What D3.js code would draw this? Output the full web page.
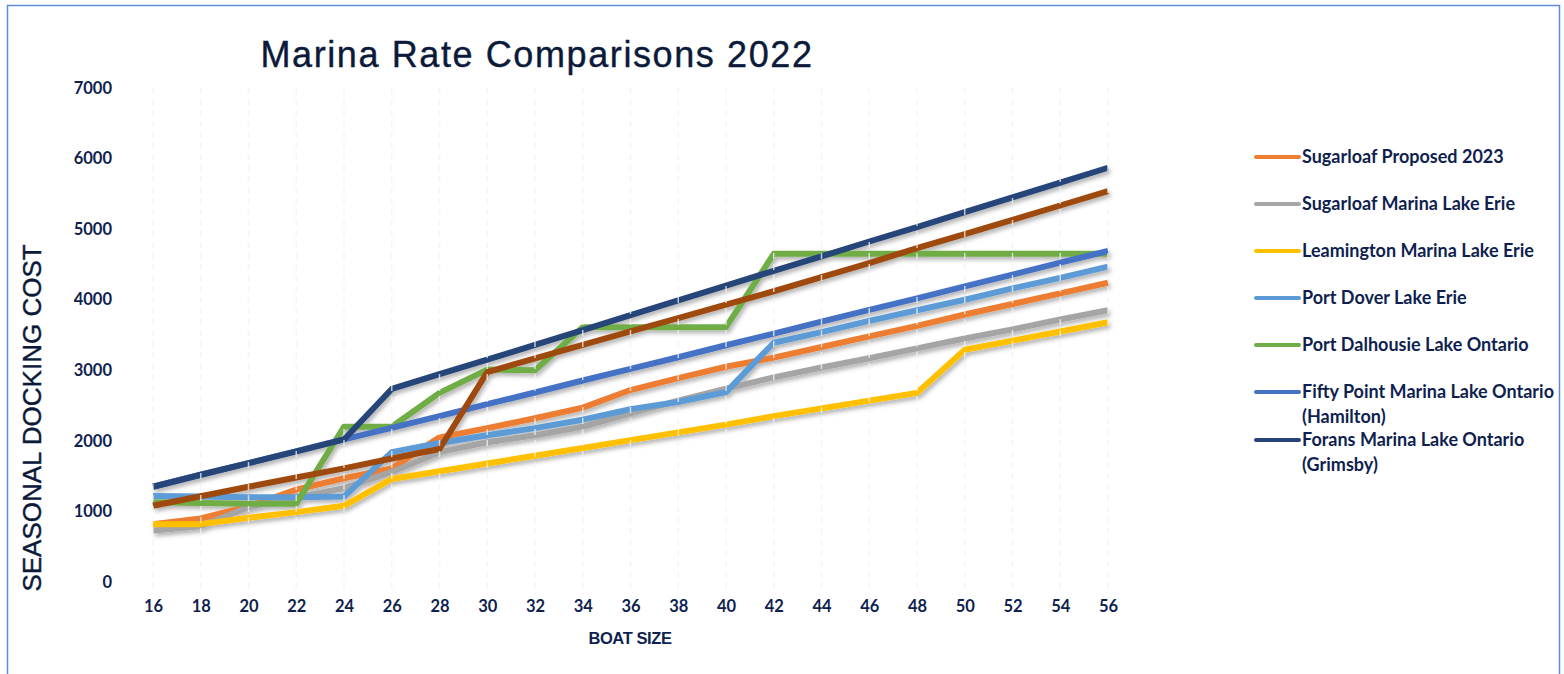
<html>
<head>
<meta charset='utf-8'>
<script src='https://cdnjs.cloudflare.com/ajax/libs/d3/7.8.5/d3.min.js'></script>
<style>
  body { margin: 0; background: #fff; }
  .tick text { font-family: 'Lato', sans-serif; font-weight: bold; font-size: 16.5px; fill: #0f1f4f; }
</style>
</head>
<body>
<script type='text/javascript'>
  'use strict';

  // boat sizes (feet)
  var boatSizes = ['16', '18', '20', '22', '24', '26', '28', '30', '32', '34', '36',
                   '38', '40', '42', '44', '46', '48', '50', '52', '54', '56'];
  var yTicks = [0, 1000, 2000, 3000, 4000, 5000, 6000, 7000];

  var seriesNames = ['Sugarloaf Proposed 2023', 'Sugarloaf Marina Lake Erie', 'Leamington Marina Lake Erie',
                     'Port Dover Lake Erie', 'Port Dalhousie Lake Ontario',
                     'Fifty Point Marina Lake Ontario (Hamilton)', 'Forans Marina Lake Ontario (Grimsby)'];

  var proposed2023  = [820, 900, 1070, 1310, 1470, 1610, 2050, 2180, 2320, 2470, 2720, 2890, 3050, 3180, 3330, 3480, 3630, 3790, 3940, 4090, 4240];
  var sugarloafErie = [730, 790, 1060, 1200, 1330, 1560, 1840, 1980, 2080, 2200, 2390, 2570, 2740, 2900, 3040, 3170, 3310, 3450, 3580, 3720, 3850];
  var leamington    = [820, 820, 910, 990, 1080, 1460, 1570, 1680, 1790, 1900, 2010, 2120, 2230, 2350, 2460, 2570, 2680, 3290, 3420, 3550, 3680];
  var portDover     = [1220, 1210, 1200, 1200, 1210, 1840, 1970, 2080, 2180, 2300, 2450, 2550, 2690, 3390, 3540, 3700, 3850, 4000, 4160, 4310, 4470];
  var portDalhousie = [1130, 1120, 1110, 1110, 2200, 2200, 2680, 3010, 3000, 3610, 3610, 3610, 3610, 4650, 4650, 4650, 4650, 4650, 4650, 4650, 4650];
  var fiftyPoint    = [1350, 1520, 1685, 1850, 2020, 2185, 2350, 2520, 2685, 2855, 3020, 3185, 3355, 3520, 3690, 3855, 4020, 4190, 4355, 4525, 4690];
  var forans        = [1350, 1520, 1685, 1850, 2020, 2735, 2945, 3150, 3360, 3570, 3780, 3990, 4200, 4410, 4615, 4825, 5030, 5240, 5450, 5660, 5870];
  // 8th series drawn in the chart but missing from its legend
  var unlabeled     = [1080, 1215, 1350, 1480, 1610, 1750, 1885, 2975, 3170, 3360, 3550, 3740, 3930, 4120, 4320, 4520, 4730, 4930, 5130, 5335, 5540];

  var colors = ['#ED7D31', '#A5A5A5', '#FFC000', '#5B9BD5', '#70AD47', '#4472C4', '#264478', '#9E480E'];
  var allSeries = [proposed2023, sugarloafErie, leamington, portDover, portDalhousie, fiftyPoint, forans, unlabeled];

  var width = 1564, height = 674;

  var svg = d3.select('body')
              .append('svg')
                .attr('width', width)
                .attr('height', height);

  var defs = svg.append('defs');
  defs.append('filter')
      .attr('id', 'shadow')
      .attr('x', '-5%').attr('y', '-20%').attr('width', '110%').attr('height', '140%')
    .append('feDropShadow')
      .attr('dx', 2).attr('dy', 3)
      .attr('stdDeviation', 2)
      .attr('flood-color', '#000')
      .attr('flood-opacity', 0.3);

  // outer border
  svg.append('rect')
      .attr('x', 7.5).attr('y', 5.5)
      .attr('width', 1552).attr('height', 700)
      .attr('fill', 'none')
      .attr('stroke', '#5f8ad6')
      .attr('stroke-width', 1.5);

  var x = d3.scalePoint().domain(boatSizes).range([153, 1108]);
  var y = d3.scaleLinear().domain([0, 7000]).range([582, 88]);

  // title
  svg.append('text')
      .attr('x', 537).attr('y', 67)
      .attr('text-anchor', 'middle')
      .style('font-family', 'Liberation Sans, Arial, sans-serif')
      .style('font-size', '36px')
      .style('letter-spacing', '1.6px')
      .style('fill', '#0c1a3a')
      .style('stroke', '#0c1a3a')
      .style('stroke-width', 0.4)
      .text('Marina Rate Comparisons 2022');

  // axes
  var yAxis = svg.append('g')
      .attr('transform', 'translate(118,0)')
      .call(d3.axisLeft(y).tickValues(yTicks).tickFormat(d3.format('d')).tickSize(0).tickPadding(6));
  yAxis.select('.domain').remove();

  var xAxis = svg.append('g')
      .attr('transform', 'translate(0,592)')
      .call(d3.axisBottom(x).tickSize(0).tickPadding(8));
  xAxis.select('.domain').remove();

  svg.append('text')
      .attr('transform', 'translate(41,418) rotate(-90)')
      .attr('text-anchor', 'middle')
      .style('font-family', 'Liberation Sans, Arial, sans-serif')
      .style('font-size', '26px')
      .style('fill', '#0c1a3a')
      .style('stroke', '#0c1a3a')
      .style('stroke-width', 0.4)
      .text('SEASONAL DOCKING COST');

  svg.append('text')
      .attr('x', 630).attr('y', 644)
      .attr('text-anchor', 'middle')
      .style('font-family', 'Liberation Sans, Arial, sans-serif')
      .style('font-weight', 'bold')
      .style('font-size', '16.5px')
      .style('letter-spacing', '-0.4px')
      .style('fill', '#0f1f4f')
      .text('BOAT SIZE');

  // lines
  var line = d3.line()
      .x(function (d, i) { return x(boatSizes[i]); })
      .y(function (d) { return y(d); });

  svg.append('g')
      .attr('filter', 'url(#shadow)')
    .selectAll('path')
      .data(allSeries)
      .enter()
      .append('path')
        .attr('d', line)
        .attr('fill', 'none')
        .attr('stroke', function (d, i) { return colors[i]; })
        .attr('stroke-width', 6)
        .attr('stroke-linejoin', 'round');

  // faint dashed gridlines, drawn over the lines like the original
  svg.append('g')
    .selectAll('line')
      .data(boatSizes)
      .enter()
      .append('line')
        .attr('x1', function (d) { return x(d); })
        .attr('x2', function (d) { return x(d); })
        .attr('y1', y(7000))
        .attr('y2', 592)
        .attr('stroke', '#f2f2f2')
        .attr('stroke-opacity', 0.75)
        .attr('stroke-width', 1.5)
        .attr('stroke-dasharray', '6,5');

  // legend
  var legendRows = [157, 204, 251, 298, 345, 392, 440];
  var legend = svg.append('g');
  seriesNames.forEach(function (name, i) {
    var ly = legendRows[i];
    legend.append('line')
        .attr('x1', 1256).attr('x2', 1299)
        .attr('y1', ly).attr('y2', ly)
        .attr('stroke', colors[i])
        .attr('stroke-width', 4)
        .attr('stroke-linecap', 'round');
    var parts = name.indexOf(' (') > 0 ? [name.slice(0, name.indexOf(' (')), name.slice(name.indexOf(' (') + 1)] : [name];
    var t = legend.append('text')
        .attr('x', 1302).attr('y', ly + 6)
        .style('font-family', 'Lato, sans-serif')
        .style('font-weight', 'bold')
        .style('font-size', '18px')
        .style('fill', '#0f1f4f');
    parts.forEach(function (p, j) {
      t.append('tspan')
          .attr('x', 1302)
          .attr('dy', j === 0 ? 0 : 25)
          .text(p);
    });
  });

</script>
</body>
</html>
